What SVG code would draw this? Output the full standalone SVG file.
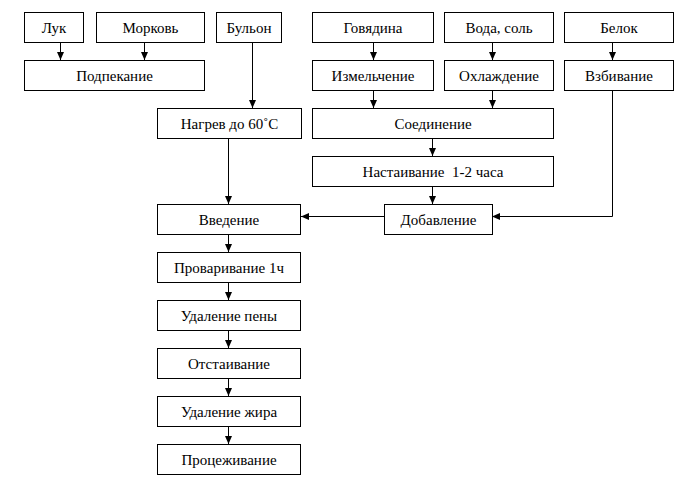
<svg xmlns="http://www.w3.org/2000/svg" width="685" height="481" viewBox="0 0 685 481">
<defs>
<marker id="ah" viewBox="0 0 8 8" refX="8" refY="4" markerWidth="8" markerHeight="8" markerUnits="userSpaceOnUse" orient="auto">
<path d="M0,0.5 L8,4 L0,7.5 Z" fill="#000"/>
</marker>
<style>
rect{fill:#fff;stroke:#000;stroke-width:1}
text{font-family:'Liberation Serif',serif;font-size:15px;fill:#000;text-anchor:middle}
#connectors path{fill:none;stroke:#000;stroke-width:1}
.a{marker-end:url(#ah)}
</style>
</defs>
<rect x="0" y="0" width="685" height="481" style="fill:#fff;stroke:none"/>
<g id="connectors">
<path class="a" d="M60.5,43 V60"/>
<path class="a" d="M144.5,43 V60"/>
<path class="a" d="M252.5,43 V108"/>
<path class="a" d="M373.5,43 V60"/>
<path class="a" d="M492.5,43 V60"/>
<path class="a" d="M612.5,43 V60"/>
<path class="a" d="M373.5,90 V108"/>
<path class="a" d="M492.5,90 V108"/>
<path class="a" d="M432.5,138 V156"/>
<path class="a" d="M432.5,186 V204"/>
<path class="a" d="M228.5,138 V204"/>
<path class="a" d="M612.5,90 V216.5 H492"/>
<path class="a" d="M384,216.5 H301"/>
<path class="a" d="M228.5,234 V252"/>
<path class="a" d="M228.5,282 V300"/>
<path class="a" d="M228.5,330 V348"/>
<path class="a" d="M228.5,378 V396"/>
<path class="a" d="M228.5,426 V444"/>
</g>
<g id="luk"><rect x="24.5" y="12.5" width="59" height="30"/><text x="54" y="33">Лук</text></g>
<g id="morkov"><rect x="96.5" y="12.5" width="108" height="30"/><text x="150.5" y="33">Морковь</text></g>
<g id="bulon"><rect x="216.5" y="12.5" width="65" height="30"/><text x="249" y="33">Бульон</text></g>
<g id="govyadina"><rect x="312.5" y="12.5" width="121" height="30"/><text x="373" y="33">Говядина</text></g>
<g id="voda"><rect x="444.5" y="12.5" width="109" height="30"/><text x="499" y="33">Вода, соль</text></g>
<g id="belok"><rect x="564.5" y="12.5" width="109" height="30"/><text x="619" y="33">Белок</text></g>
<g id="podpekanie"><rect x="24.5" y="60.5" width="180" height="30"/><text x="114.5" y="81">Подпекание</text></g>
<g id="izmelchenie"><rect x="312.5" y="60.5" width="121" height="30"/><text x="373" y="81">Измельчение</text></g>
<g id="ohlazhdenie"><rect x="444.5" y="60.5" width="109" height="30"/><text x="499" y="81">Охлаждение</text></g>
<g id="vzbivanie"><rect x="564.5" y="60.5" width="109" height="30"/><text x="619" y="81">Взбивание</text></g>
<g id="nagrev"><rect x="157.5" y="108.5" width="144" height="30"/><text x="229.5" y="129">Нагрев до 60˚С</text></g>
<g id="soedinenie"><rect x="312.5" y="108.5" width="241" height="30"/><text x="433" y="129">Соединение</text></g>
<g id="nastaivanie"><rect x="312.5" y="156.5" width="241" height="30"/><text x="433" y="177" xml:space="preserve">Настаивание  1-2 часа</text></g>
<g id="vvedenie"><rect x="157.5" y="204.5" width="143" height="30"/><text x="229" y="225">Введение</text></g>
<g id="dobavlenie"><rect x="384.5" y="204.5" width="108" height="30"/><text x="438.5" y="225">Добавление</text></g>
<g id="provarivanie"><rect x="157.5" y="252.5" width="143" height="30"/><text x="229" y="273">Проваривание 1ч</text></g>
<g id="udalenie_peny"><rect x="157.5" y="300.5" width="143" height="30"/><text x="229" y="321">Удаление пены</text></g>
<g id="otstaivanie"><rect x="157.5" y="348.5" width="143" height="30"/><text x="229" y="369">Отстаивание</text></g>
<g id="udalenie_zhira"><rect x="157.5" y="396.5" width="143" height="30"/><text x="229" y="417">Удаление жира</text></g>
<g id="procezhivanie"><rect x="157.5" y="444.5" width="143" height="30"/><text x="229" y="465">Процеживание</text></g>
</svg>
